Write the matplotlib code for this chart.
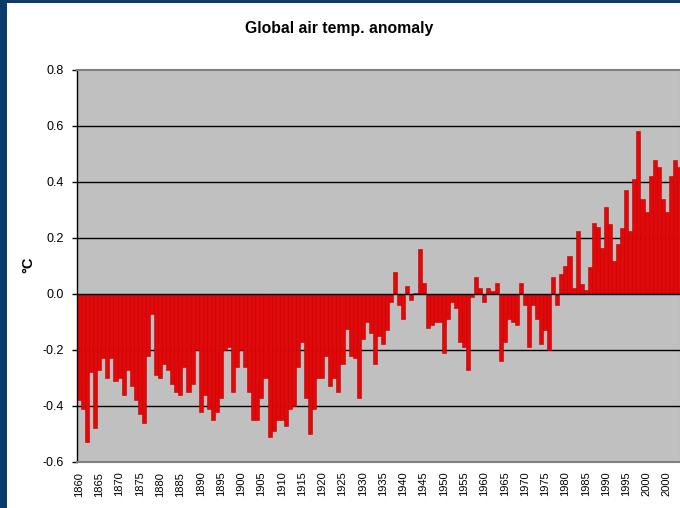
import numpy as np
import matplotlib
matplotlib.use("Agg")
import matplotlib.pyplot as plt
from matplotlib.patches import Rectangle

plt.rcParams['font.family'] = ['Liberation Sans', 'DejaVu Sans']

# annual anomaly, one value per year from 1860
first_year = 1860
anomaly = [
    -0.38, -0.41, -0.53, -0.28, -0.48, -0.27, -0.23, -0.30, -0.23, -0.31,   # 1860s
    -0.30, -0.36, -0.27, -0.33, -0.38, -0.43, -0.46, -0.22, -0.07, -0.29,   # 1870s
    -0.30, -0.25, -0.27, -0.32, -0.35, -0.36, -0.26, -0.35, -0.32, -0.20,   # 1880s
    -0.42, -0.36, -0.41, -0.45, -0.42, -0.37, -0.20, -0.19, -0.35, -0.26,   # 1890s
    -0.20, -0.26, -0.35, -0.45, -0.45, -0.37, -0.30, -0.51, -0.49, -0.45,   # 1900s
    -0.45, -0.47, -0.41, -0.40, -0.26, -0.17, -0.37, -0.50, -0.41, -0.30,   # 1910s
    -0.30, -0.22, -0.33, -0.30, -0.35, -0.25, -0.125, -0.22, -0.23, -0.37,  # 1920s
    -0.16, -0.10, -0.14, -0.25, -0.15, -0.18, -0.13, -0.03, 0.08, -0.04,    # 1930s
    -0.09, 0.03, -0.02, 0.005, 0.16, 0.04, -0.12, -0.11, -0.10, -0.10,      # 1940s
    -0.21, -0.09, -0.03, -0.05, -0.17, -0.19, -0.27, -0.01, 0.06, 0.02,     # 1950s
    -0.03, 0.02, 0.01, 0.04, -0.24, -0.17, -0.09, -0.10, -0.11, 0.04,       # 1960s
    -0.04, -0.19, -0.04, -0.09, -0.18, -0.13, -0.20, 0.06, -0.04, 0.07,     # 1970s
    0.10, 0.135, 0.02, 0.225, 0.035, 0.015, 0.097, 0.255, 0.24, 0.163,      # 1980s
    0.31, 0.25, 0.117, 0.18, 0.235, 0.373, 0.225, 0.41, 0.582, 0.34,        # 1990s
    0.292, 0.42, 0.478, 0.455, 0.34, 0.292, 0.42, 0.478, 0.455,             # 2000s
]
# the last label really reads 2000 again in the original
tick_labels = [str(y) for y in range(1860, 2001, 5)] + ['2000']
y_ticks = [0.8, 0.6, 0.4, 0.2, 0.0, -0.2, -0.4, -0.6]
y_tick_labels = ['0.8', '0.6', '0.4', '0.2', '0.0', '-0.2', '-0.4', '-0.6']

W, H = 680, 508
fig = plt.figure(figsize=(W / 100, H / 100), dpi=100)
fig.patch.set_facecolor('#0B3A6C')
# white chart area inside the navy frame (frame only shows left and top)
fig.add_artist(Rectangle((7 / W, 0), 1, (H - 3) / H, transform=fig.transFigure,
                         facecolor='white', edgecolor='none', zorder=0))

n = len(anomaly)
x = np.arange(n)
ax = fig.add_axes([77 / W, (H - 462) / H, 604 / W, 392 / H])
ax.set_facecolor('#C0C0C0')
ax.bar(x, anomaly, width=1.0, color='#E00808', edgecolor='#C40000',
       linewidth=0.4, zorder=2)
ax.axhline(0, color='black', lw=1.0, zorder=3)

ax.set_xlim(-0.5, n - 0.5)
ax.set_ylim(-0.6, 0.8)
ax.set_yticks(y_ticks)
ax.set_yticklabels(y_tick_labels, fontsize=9)
ax.set_xticks(x[::5])
ax.set_xticklabels(tick_labels, rotation=90, fontsize=8)
ax.tick_params(axis='x', length=0, pad=7)
ax.tick_params(axis='y', length=3.3, width=1, pad=6, color='black')

for yv in [0.6, 0.4, 0.2, -0.2, -0.4]:
    ax.axhline(yv, color='black', lw=1.0, zorder=1)

ax.spines['left'].set_color('black')
ax.spines['left'].set_linewidth(1.0)
for s in ['top', 'bottom', 'right']:
    ax.spines[s].set_color('#808080')
    ax.spines[s].set_linewidth(1.5)

fig.text(339 / W, 1 - 29 / H, 'Global air temp. anomaly', ha='center', va='center',
         fontsize=11.3, fontweight='bold')
fig.text(28 / W, 1 - 265 / H, '°C', rotation=90, ha='center', va='center',
         fontsize=10.5, fontweight='bold')

fig.savefig('out.png', dpi=100)
